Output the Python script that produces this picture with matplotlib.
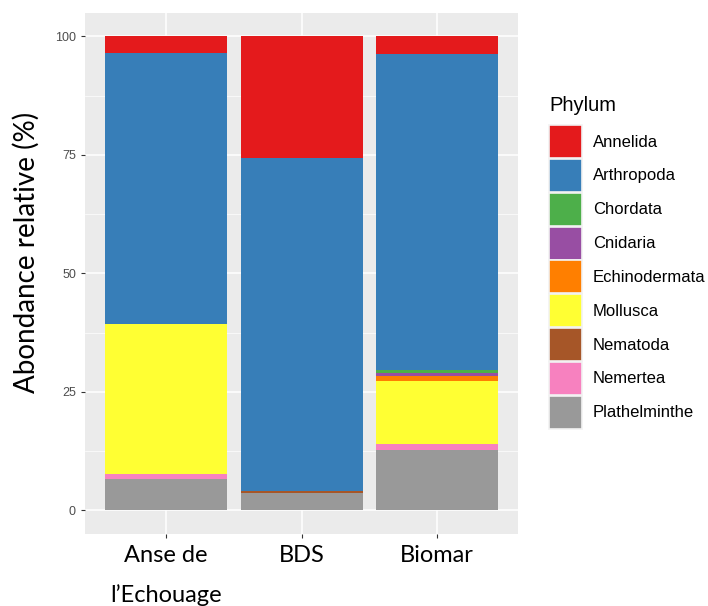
import matplotlib.pyplot as plt
from matplotlib.patches import Patch
from matplotlib.ticker import MultipleLocator
import numpy as np

plt.rcParams['font.family'] = ['Liberation Sans', 'DejaVu Sans']

sites = ["Anse de\nl\u2019Echouage", "BDS", "Biomar"]
phyla = ["Annelida", "Arthropoda", "Chordata", "Cnidaria", "Echinodermata",
         "Mollusca", "Nematoda", "Nemertea", "Plathelminthe"]
colors = ["#E41A1C", "#377EB8", "#4DAF4A", "#984EA3", "#FF7F00",
          "#FFFF33", "#A65628", "#F781BF", "#999999"]

# relative abundance (%) per site, same order as sites
annelida      = [3.5, 25.6, 3.7]
arthropoda    = [57.3, 70.4, 66.7]
chordata      = [0.0, 0.0, 0.7]
cnidaria      = [0.0, 0.0, 0.6]
echinodermata = [0.0, 0.0, 1.0]
mollusca      = [31.6, 0.0, 13.3]
nematoda      = [0.0, 0.3, 0.0]
nemertea      = [1.1, 0.0, 1.3]
plathelminthe = [6.5, 3.7, 12.7]

values = [annelida, arthropoda, chordata, cnidaria, echinodermata,
          mollusca, nematoda, nemertea, plathelminthe]

fig = plt.figure(figsize=[7.08, 6.06], dpi=100)
ax = fig.add_axes([0.120, 0.119, 0.612, 0.860])
ax.set_facecolor("#EBEBEB")

x = np.arange(len(sites)) + 1
bottom = np.zeros(len(sites))
# stack from the bottom: last phylum first
for name, vals, col in reversed(list(zip(phyla, values, colors))):
    ax.bar(x, vals, width=0.9, bottom=bottom, color=col, linewidth=0, zorder=3)
    bottom += np.array(vals)

ax.set_xlim(0.4, 3.6)
ax.set_ylim(-5, 105)
ax.set_xticks(x)
ax.set_xticklabels(sites, fontsize=17, family="Lato", linespacing=2.0, va="top")
ax.yaxis.set_major_locator(MultipleLocator(25))
ax.yaxis.set_minor_locator(MultipleLocator(12.5))
ax.tick_params(axis="y", which="major", labelsize=9, labelcolor="#4D4D4D",
               color="#333333", length=3, width=0.8)
ax.tick_params(axis="y", which="minor", length=0)
ax.tick_params(axis="x", color="#333333", length=3, width=0.8, pad=5)
ax.grid(True, which="major", color="white", linewidth=1.1, zorder=0)
ax.grid(True, which="minor", axis="y", color="white", linewidth=0.5, zorder=0)
ax.set_axisbelow(True)
for s in ax.spines.values():
    s.set_visible(False)

ax.set_ylabel("Abondance relative (%)", fontsize=20, family="Lato")
ax.yaxis.set_label_coords(-0.105, 0.541)

handles = [Patch(facecolor=c, edgecolor="#F2F2F2", linewidth=1.2) for c in colors]
leg = fig.legend(handles, phyla, loc="upper left", bbox_to_anchor=(0.766, 0.852),
                 frameon=False, fontsize=12, title="Phylum", title_fontsize=14.5,
                 handlelength=1.98, handleheight=2.67, labelspacing=0.05,
                 handletextpad=0.65, borderaxespad=0)
leg._legend_box.align = "left"
leg._legend_box.sep = 7

fig.savefig("out.png", dpi=100)
